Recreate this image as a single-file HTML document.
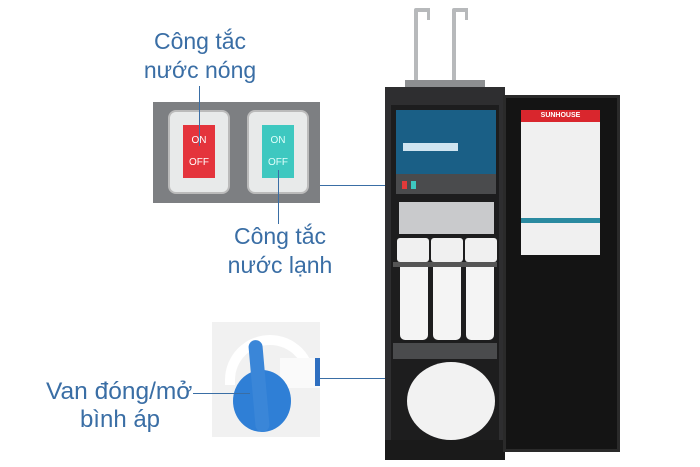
<!DOCTYPE html>
<html><head><meta charset="utf-8"><style>
body{margin:0;width:700px;height:467px;background:#fff;position:relative;overflow:hidden;font-family:"Liberation Sans",sans-serif}
div{position:absolute;box-sizing:border-box}
.t{color:#3a6ea5;font-size:23px;text-align:center;line-height:29px}
.ln{background:#3a6ea5}
</style></head><body>
<!-- texts -->
<div class="t" style="left:130px;top:27px;width:140px">Công tắc<br>nước nóng</div>
<div class="t" style="left:210px;top:222px;width:140px">Công tắc<br>nước lạnh</div>
<div class="t" style="left:46px;top:377px;width:160px;text-align:left;font-size:24.5px">Van đóng/mở</div>
<div class="t" style="left:60px;top:405px;width:120px;font-size:24px">bình áp</div>
<!-- switch photo -->
<div style="left:153px;top:102px;width:167px;height:101px;background:#7d7f82"></div>
<div style="left:168px;top:110px;width:62px;height:84px;background:#e8eaea;border:2px solid #bbb;border-radius:8px"></div>
<div style="left:183px;top:125px;width:32px;height:53px;background:#e4343c;color:#fff;font-size:10px;text-align:center;line-height:22px;padding-top:5px">ON<br>OFF</div>
<div style="left:247px;top:110px;width:62px;height:84px;background:#e8eaea;border:2px solid #bbb;border-radius:8px"></div>
<div style="left:262px;top:125px;width:32px;height:53px;background:#3ec8c0;color:#e0fffb;font-size:10px;text-align:center;line-height:22px;padding-top:5px">ON<br>OFF</div>
<div class="ln" style="left:199px;top:86px;width:1px;height:60px"></div>
<div class="ln" style="left:278px;top:170px;width:1px;height:54px"></div>
<div class="ln" style="left:320px;top:185px;width:72px;height:1px"></div>
<!-- valve photo -->
<div style="left:212px;top:322px;width:108px;height:115px;background:#f1f1f1"></div>
<div style="left:225px;top:335px;width:90px;height:50px;border:10px solid #fff;border-bottom:none;border-radius:45px 45px 0 0"></div>
<div style="left:280px;top:358px;width:40px;height:30px;background:#fafafa"></div>
<div style="left:233px;top:370px;width:58px;height:62px;background:#2f7fd6;border-radius:50%"></div>
<div style="left:252px;top:340px;width:14px;height:92px;background:#3a86d8;border-radius:7px;transform:rotate(-5deg)"></div>
<div style="left:315px;top:358px;width:5px;height:28px;background:#2f6fc0"></div>
<div class="ln" style="left:193px;top:393px;width:57px;height:1px"></div>
<div class="ln" style="left:320px;top:378px;width:125px;height:1px"></div>
<!-- faucets -->
<div style="left:414px;top:10px;width:4px;height:72px;background:#b7b9bb"></div>
<div style="left:414px;top:8px;width:16px;height:4px;background:#b7b9bb;border-radius:2px"></div>
<div style="left:427px;top:8px;width:3px;height:12px;background:#b7b9bb"></div>
<div style="left:452px;top:10px;width:4px;height:72px;background:#b7b9bb"></div>
<div style="left:452px;top:8px;width:16px;height:4px;background:#b7b9bb;border-radius:2px"></div>
<div style="left:465px;top:8px;width:3px;height:12px;background:#b7b9bb"></div>
<div style="left:405px;top:80px;width:80px;height:8px;background:#8d8f91"></div>
<!-- cabinet -->
<div style="left:385px;top:87px;width:120px;height:373px;background:#2e2e30"></div>
<div style="left:391px;top:105px;width:108px;height:348px;background:#1d1d1e"></div>
<div style="left:396px;top:110px;width:100px;height:64px;background:#1a5f86"></div>
<div style="left:403px;top:143px;width:55px;height:8px;background:#cfe4f0"></div>
<div style="left:396px;top:174px;width:100px;height:20px;background:#4a4b4d"></div>
<div style="left:402px;top:181px;width:5px;height:8px;background:#e03a3a"></div>
<div style="left:411px;top:181px;width:5px;height:8px;background:#3ec8c0"></div>
<div style="left:399px;top:202px;width:95px;height:32px;background:#c9cacc"></div>
<div style="left:397px;top:238px;width:32px;height:24px;background:#f0f0f0;border-radius:3px"></div>
<div style="left:431px;top:238px;width:32px;height:24px;background:#f0f0f0;border-radius:3px"></div>
<div style="left:465px;top:238px;width:32px;height:24px;background:#f0f0f0;border-radius:3px"></div>
<div style="left:393px;top:262px;width:104px;height:5px;background:#555"></div>
<div style="left:400px;top:267px;width:28px;height:73px;background:#f4f4f4;border-radius:0 0 5px 5px"></div>
<div style="left:433px;top:267px;width:28px;height:73px;background:#f4f4f4;border-radius:0 0 5px 5px"></div>
<div style="left:466px;top:267px;width:28px;height:73px;background:#f4f4f4;border-radius:0 0 5px 5px"></div>
<div style="left:393px;top:343px;width:104px;height:16px;background:#4a4b4d"></div>
<div style="left:407px;top:362px;width:88px;height:78px;background:#f2f2f2;border-radius:44px/39px"></div>
<div style="left:385px;top:440px;width:120px;height:20px;background:#1a1a1a"></div>
<!-- door -->
<div style="left:503px;top:95px;width:117px;height:357px;background:#141414;border:3px solid #2a2a2a"></div>
<div style="left:521px;top:110px;width:79px;height:145px;background:#f0f0f0"></div>
<div style="left:521px;top:110px;width:79px;height:12px;background:#d9262d;color:#fff;font-size:7px;font-weight:bold;text-align:center;line-height:12px">SUNHOUSE</div>
<div style="left:521px;top:218px;width:79px;height:5px;background:#2a8aa0"></div>
</body></html>
